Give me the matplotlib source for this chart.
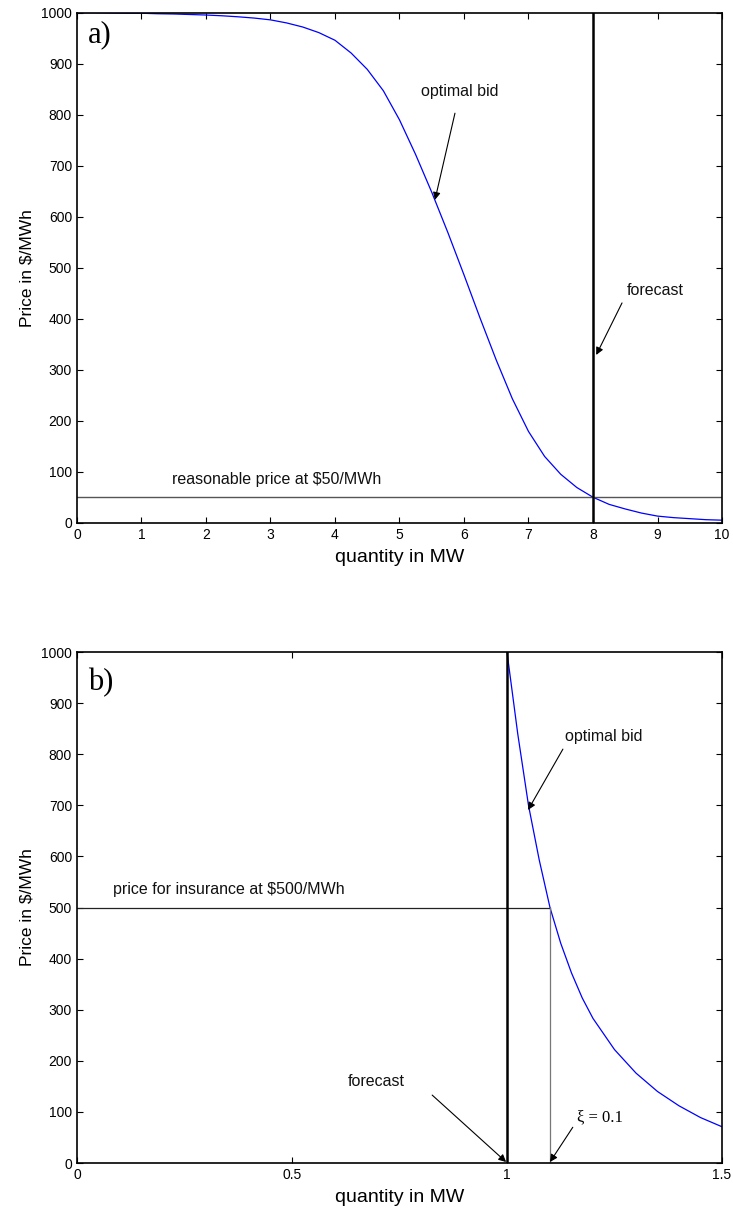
import matplotlib
matplotlib.use("Agg")
import matplotlib.pyplot as plt

# panel a) optimal bid curve
qty_a = [0, 0.25, 0.5, 0.75, 1.0, 1.25, 1.5, 1.75, 2.0, 2.25, 2.5, 2.75,
         3.0, 3.25, 3.5, 3.75, 4.0, 4.25, 4.5, 4.75, 5.0, 5.25, 5.5, 5.75,
         6.0, 6.25, 6.5, 6.75, 7.0, 7.25, 7.5, 7.75, 8.0, 8.25, 8.5, 8.75,
         9.0, 9.25, 9.5, 9.75, 10.0]
bid_a = [1000, 1000, 999.5, 999, 999, 998, 997.5, 996.5, 995.5, 994, 992, 989.5,
         986, 980, 972, 961, 946, 921, 889, 847, 790, 722, 648, 569,
         486, 401, 319, 243, 179, 130, 95, 69, 50, 36, 27, 19,
         13, 10, 8, 6, 5]
forecast_a = 8.0
reasonable_price = 50

# panel b)
qty_b = [1.0, 1.025, 1.05, 1.075, 1.1, 1.125, 1.15, 1.175, 1.2, 1.25, 1.3,
         1.35, 1.4, 1.45, 1.5]
bid_b = [1000, 840, 700, 593, 500, 430, 372, 323, 283, 222, 176,
         140, 112, 89, 71]
forecast_b = 1.0
xi_qty = 1.1
insurance_price = 500

plt.rcParams["font.family"] = ["Liberation Sans", "DejaVu Sans"]
plt.rcParams["xtick.direction"] = "in"
plt.rcParams["ytick.direction"] = "in"
plt.rcParams["xtick.top"] = True
plt.rcParams["ytick.right"] = True
plt.rcParams["xtick.major.size"] = 4
plt.rcParams["ytick.major.size"] = 4
plt.rcParams["xtick.labelsize"] = 10
plt.rcParams["ytick.labelsize"] = 10
plt.rcParams["axes.linewidth"] = 1.2

fig = plt.figure(figsize=(7.33, 12.12), dpi=100)
ax1 = fig.add_axes([0.105, 0.5687, 0.880, 0.4208])
ax2 = fig.add_axes([0.105, 0.0404, 0.880, 0.4216])

arrow = dict(arrowstyle="-|>", color="k", lw=0.8, mutation_scale=11, shrinkA=0, shrinkB=0)
txt = dict(fontsize=11.5, ha="left", va="center", color="#111111")

# ---- a)
ax1.plot(qty_a, bid_a, color="#0000ff", lw=0.9)
ax1.axhline(reasonable_price, color="#555555", lw=1.0)
ax1.axvline(forecast_a, color="k", lw=1.8)
ax1.set_xlim(0, 10)
ax1.set_ylim(0, 1000)
ax1.set_xticks(range(0, 11))
ax1.set_yticks(range(0, 1001, 100))
ax1.set_xlabel("quantity in MW", fontsize=14, labelpad=5)
ax1.set_ylabel("Price in $/MWh", fontsize=12.5, labelpad=5)

ax1.text(0.17, 956, "a)", fontsize=22, family=["Liberation Serif"], ha="left", va="center")
ax1.text(5.34, 845, "optimal bid", **txt)
ax1.annotate("", xy=(5.55, 633), xytext=(5.86, 803), arrowprops=arrow)
ax1.text(8.53, 456, "forecast", **txt)
ax1.annotate("", xy=(8.05, 329), xytext=(8.45, 431), arrowprops=arrow)
ax1.text(1.47, 84, "reasonable price at $50/MWh", **txt)

# ---- b)
ax2.plot(qty_b, bid_b, color="#0000ff", lw=0.9)
ax2.plot([0, xi_qty], [insurance_price, insurance_price], color="#222222", lw=0.9)
ax2.plot([xi_qty, xi_qty], [0, insurance_price], color="#777777", lw=0.9)
ax2.axvline(forecast_b, color="k", lw=1.8)
ax2.set_xlim(0, 1.5)
ax2.set_ylim(0, 1000)
ax2.set_xticks([0, 0.5, 1, 1.5])
ax2.set_xticklabels(["0", "0.5", "1", "1.5"])
ax2.set_yticks(range(0, 1001, 100))
ax2.set_xlabel("quantity in MW", fontsize=14, labelpad=5)
ax2.set_ylabel("Price in $/MWh", fontsize=12.5, labelpad=5)

ax2.text(0.026, 941, "b)", fontsize=22, family=["Liberation Serif"], ha="left", va="center")
ax2.text(1.135, 834, "optimal bid", **txt)
ax2.annotate("", xy=(1.049, 691), xytext=(1.130, 810), arrowprops=arrow)
ax2.text(0.083, 536, "price for insurance at $500/MWh", **txt)
ax2.text(0.630, 159, "forecast", **txt)
ax2.annotate("", xy=(0.998, 2), xytext=(0.826, 133), arrowprops=arrow)
ax2.text(1.163, 90, "\u03be = 0.1", fontsize=12, family=["Liberation Serif", "DejaVu Serif"],
         ha="left", va="center")
ax2.annotate("", xy=(1.100, 2), xytext=(1.153, 70), arrowprops=arrow)

fig.savefig("out.png", dpi=100)
